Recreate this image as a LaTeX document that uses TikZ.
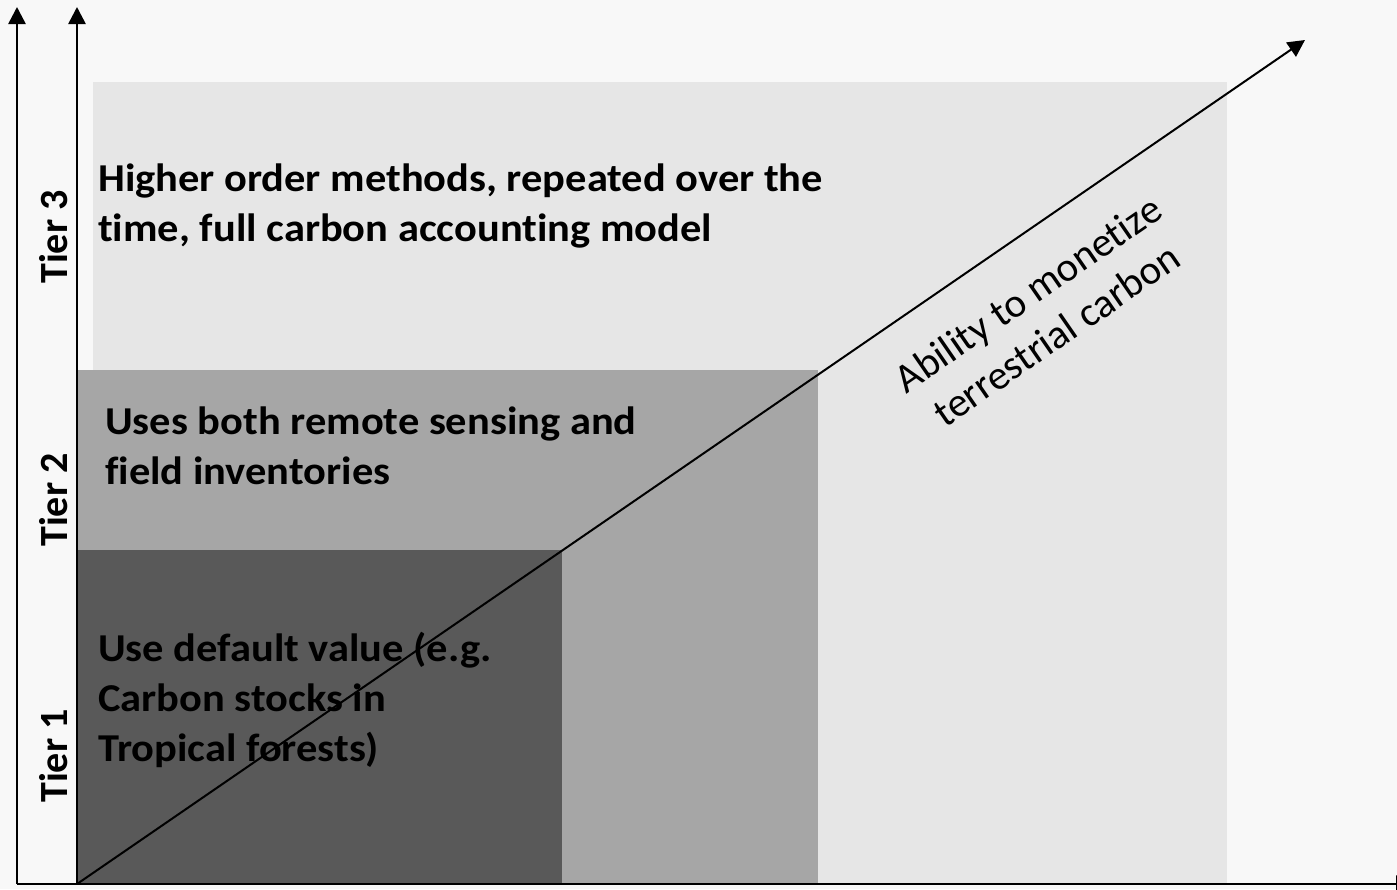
\documentclass[tikz,border=0pt]{standalone}
\usepackage{fontspec}
\setmainfont{Carlito}[Ligatures={TeX,NoCommon}]
\usetikzlibrary{arrows.meta}
\definecolor{bgc}{HTML}{F8F8F8}
\definecolor{tierthree}{HTML}{E6E6E6}
\definecolor{tiertwo}{HTML}{A6A6A6}
\definecolor{tierone}{HTML}{595959}
\tikzset{
  axisline/.style={line width=2.6pt,-{Triangle[width=17pt,length=17pt]}},
  diagline/.style={line width=2pt,-{Triangle[width=17pt,length=17pt]}},
  desc/.style={font=\bfseries\fontsize{39.5}{50}\selectfont,align=left,anchor=base west,inner sep=0pt,xscale=1.075},
  tierlabel/.style={font=\bfseries\fontsize{40}{42}\selectfont,rotate=90,anchor=base,inner sep=0pt},
  diaglabel/.style={font=\fontsize{41}{50}\selectfont,align=center,rotate=34.6,inner sep=0pt}
}
\begin{document}
\begin{tikzpicture}[x=1pt,y=-1pt]
\useasboundingbox (0,0) rectangle (1397,889);
\clip (0,0) rectangle (1397,889);
\fill[bgc] (0,0) rectangle (1397,889);
% tier regions
\fill[tierthree] (93,82) rectangle (1227,884);
\fill[tiertwo] (77,370) rectangle (818,884);
\fill[tierone] (77,550) rectangle (562,884);
% coordinates
\coordinate (O) at (77,884);
\coordinate (Oout) at (17,884);
\coordinate (xend) at (1413,884);
\coordinate (youtend) at (17,7);
\coordinate (yinend) at (77,7);
\coordinate (dend) at (1305,40);
% texts
\node[desc] (t3) at (98,241) {Higher order methods, repeated over the\\time, full carbon accounting model};
\node[desc] (t2) at (105,484) {Uses both remote sensing and\\field inventories};
\node[desc] (t1) at (98,761) {Use default value (e.g.\\Carbon stocks in\\Tropical forests)};
\node[tierlabel] (l3) at (67,237) {Tier 3};
\node[tierlabel] (l2) at (67,500) {Tier 2};
\node[tierlabel] (l1) at (67,756) {Tier 1};
\node[diaglabel] (dl) at (1042,314) {Ability to monetize\\terrestrial carbon};
% axes
\draw[diagline] (O) -- (dend);
\draw[axisline] (Oout) -- (xend);
\draw[axisline] (Oout) -- (youtend);
\draw[axisline] (O) -- (yinend);
\end{tikzpicture}
\end{document}
